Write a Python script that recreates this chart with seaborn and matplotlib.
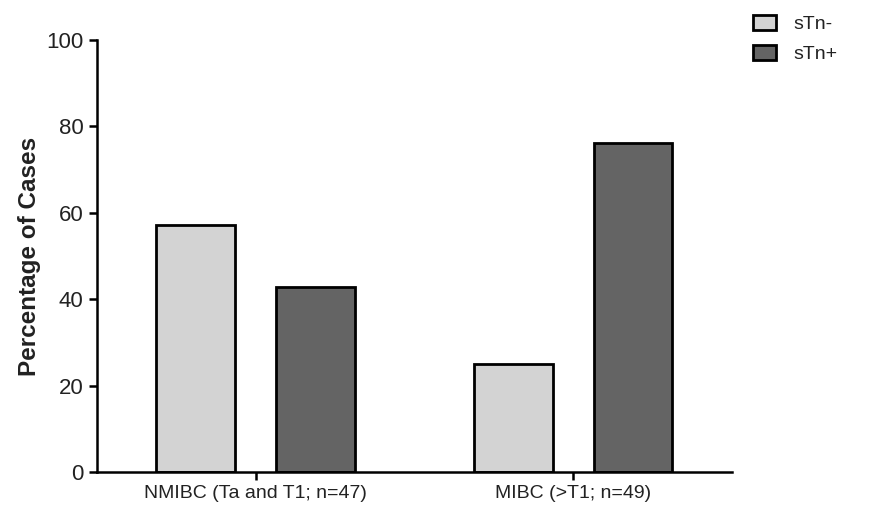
import pandas as pd
from matplotlib import pyplot as plt
import seaborn as sns

groups = ["NMIBC (Ta and T1; n=47)", "MIBC (>T1; n=49)"]
status = ["sTn-", "sTn+"]
stn_neg = [57.2, 25.0]
stn_pos = [42.8, 76.2]

df = pd.DataFrame({
  'Group': groups * 2,
  'Status': [status[0]] * 2 + [status[1]] * 2,
  'Percent': stn_neg + stn_pos,
})

sns.set_style('ticks')
plt.rcParams['font.family'] = ['Liberation Sans', 'DejaVu Sans']

fig = plt.figure(figsize=(8.96, 5.11), dpi=100)
ax = fig.add_axes([0.108, 0.076, 0.709, 0.846])

sns.barplot(data=df, x='Group', y='Percent', hue='Status', order=groups, hue_order=status,
            palette=['#d3d3d3', '#646464'], width=0.752, gap=0.34,
            edgecolor='black', linewidth=2, errorbar=None, ax=ax)

ax.set_xlim(-0.5, 1.5)
ax.set_ylim(0, 100)
ax.set_yticks([0, 20, 40, 60, 80, 100])
ax.set_xlabel('')
ax.set_ylabel('Percentage of Cases', fontsize=17.5, fontweight='bold', labelpad=4, color='#222222')
ax.tick_params(axis='both', width=1.8, length=6, colors='black', labelsize=16)
ax.tick_params(axis='y', labelcolor='#222222')
ax.tick_params(axis='x', labelsize=14, labelcolor='#222222')
sns.despine(ax=ax)
for s in ['left', 'bottom']:
  ax.spines[s].set_linewidth(1.8)
  ax.spines[s].set_color('black')

leg = ax.legend(loc='upper left', bbox_to_anchor=(0.83, 0.99), bbox_transform=fig.transFigure,
                frameon=False, fontsize=14, borderpad=0, handlelength=1.15, handleheight=0.8,
                handletextpad=0.9, labelspacing=0.6)
for h in leg.legend_handles:
  h.set_linewidth(2)
for t in leg.get_texts():
  t.set_color('#222222')

fig.savefig('out.png', dpi=100)
